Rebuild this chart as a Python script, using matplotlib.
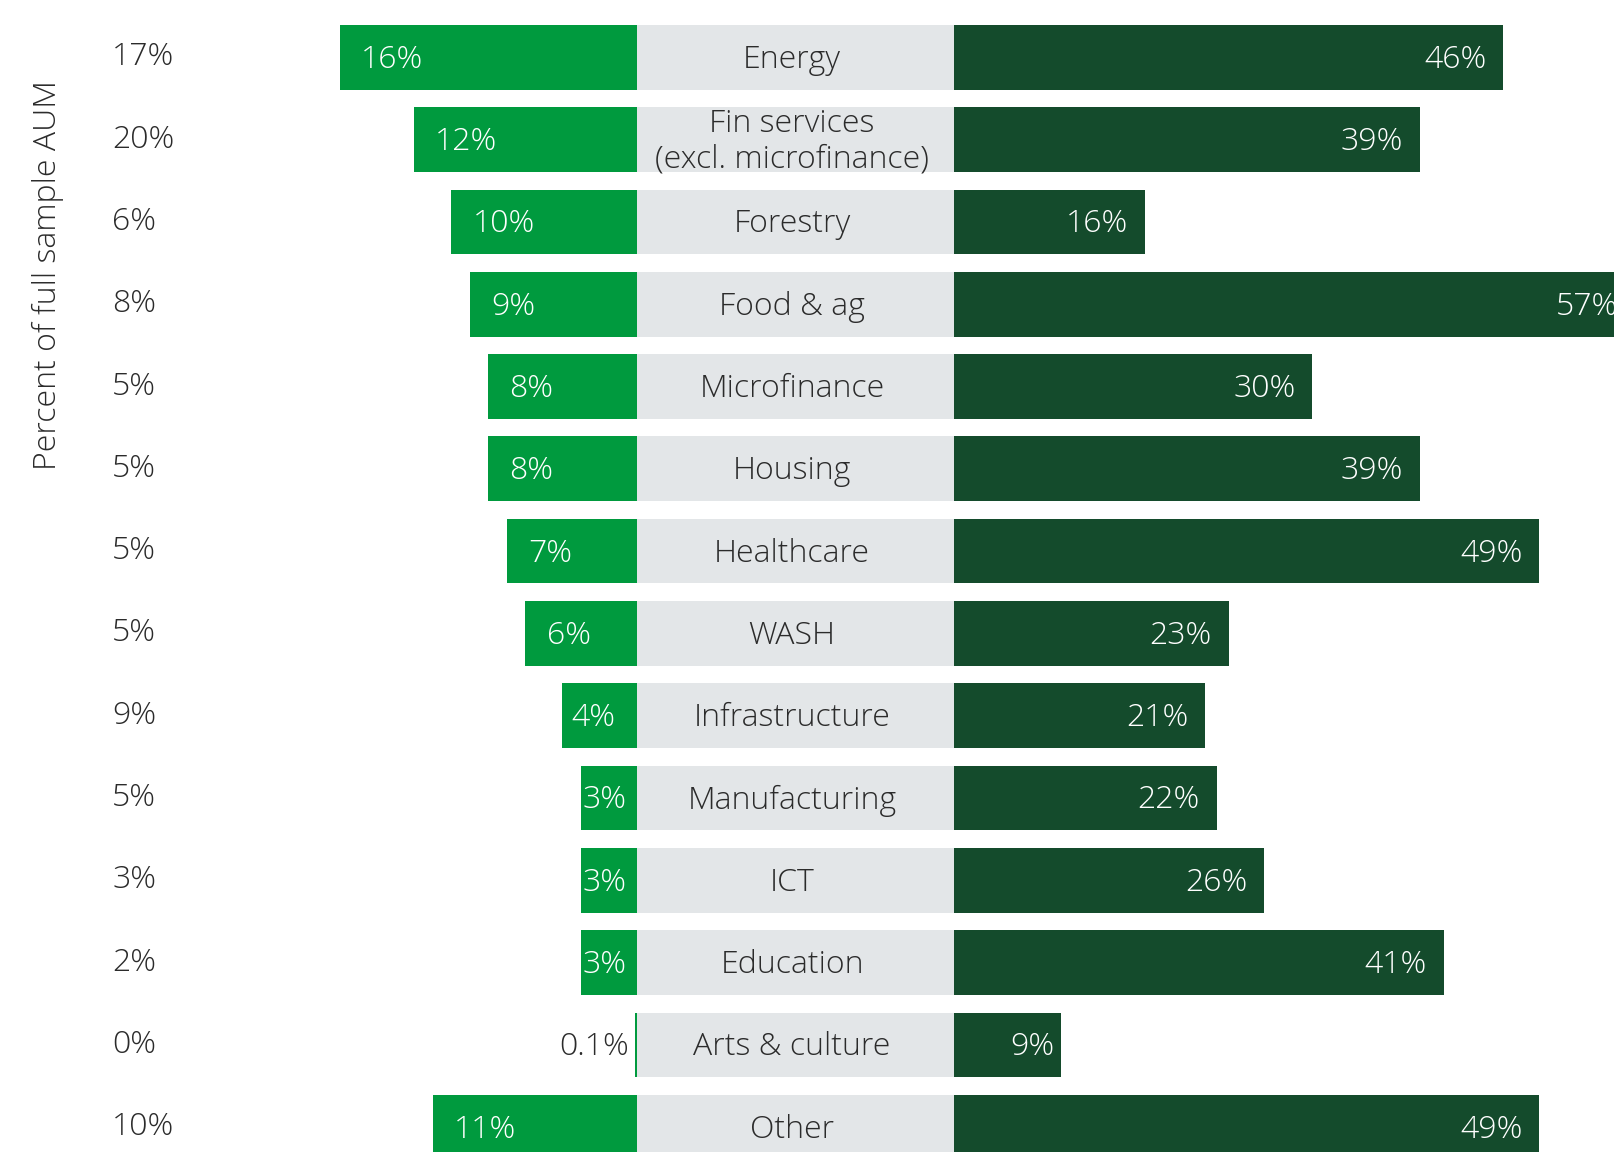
import matplotlib
matplotlib.use("Agg")
import matplotlib.pyplot as plt
import matplotlib.transforms as mtransforms

plt.rcParams['font.family'] = ['Open Sans', 'DejaVu Sans']

# data
categories = ["Energy", "Fin services\n(excl. microfinance)", "Forestry", "Food & ag",
              "Microfinance", "Housing", "Healthcare", "WASH", "Infrastructure",
              "Manufacturing", "ICT", "Education", "Arts & culture", "Other"]
aum_share = ["17%", "20%", "6%", "8%", "5%", "5%", "5%", "5%", "9%", "5%", "3%", "2%", "0%", "10%"]
left_vals = [16, 12, 10, 9, 8, 8, 7, 6, 4, 3, 3, 3, 0.1, 11]
right_vals = [46, 39, 16, 57, 30, 39, 49, 23, 21, 22, 26, 41, 9, 49]

GREEN = "#009A3E"
DARK = "#144B2C"
GREY = "#E3E6E8"
TXT = "#2B2B2B"
FS = 23
DY = 0.03  # labels sit a touch below bar centre

W, H = 1615, 1152
fig = plt.figure(figsize=(W / 100, H / 100), dpi=100)

x_zero_l = 636.6   # px, left bars grow left from here
x_zero_r = 953.8   # px, right bars grow right from here
px_l = 18.55       # px per percent, left side
px_r = 11.95       # px per percent, right side
pitch = 82.3
first_c = 57.3

ylim = ((H - first_c) / pitch, -first_c / pitch)
ys = list(range(len(categories)))
bh = 0.786

ax_l = fig.add_axes([0, 0, x_zero_l / W, 1])
ax_m = fig.add_axes([x_zero_l / W, 0, (x_zero_r - x_zero_l) / W, 1])
ax_r = fig.add_axes([x_zero_r / W, 0, (W - x_zero_r) / W, 1])

for ax in (ax_l, ax_m, ax_r):
    ax.set_ylim(*ylim)
    ax.axis("off")

ax_l.set_xlim(x_zero_l / px_l, 0)
ax_r.set_xlim(0, (W - x_zero_r) / px_r)
ax_m.set_xlim(0, 1)

# left bars
ax_l.barh(ys, left_vals, height=bh, color=GREEN, edgecolor="none")
for y, v in zip(ys, left_vals):
    if v < 1:
        ax_l.text(v + 0.3, y + DY, f"{v}%", ha="right", va="center", fontsize=FS,
                  color=TXT, fontweight="light")
    else:
        pad = min(1.15, 0.1 + 0.4 * (v - 3))
        ax_l.text(v - pad, y + DY, f"{v:g}%", ha="left", va="center", fontsize=FS,
                  color="white", fontweight="light")

# centre grey boxes with category names
ax_m.barh(ys, [1] * len(ys), height=bh, color=GREY, edgecolor="none")
for y, c in zip(ys, categories):
    ax_m.text(0.49, y + DY, c, ha="center", va="center", fontsize=FS, color=TXT,
              fontweight="light", linespacing=1.15)

# right bars
ax_r.barh(ys, right_vals, height=bh, color=DARK, edgecolor="none")
for y, v in zip(ys, right_vals):
    pad = 0.6 if v < 10 else 1.4
    ax_r.text(v - pad, y + DY, f"{v}%", ha="right", va="center", fontsize=FS,
              color="white", fontweight="light", clip_on=False)

# share of AUM column + axis title
tr = mtransforms.blended_transform_factory(ax_l.transAxes, ax_l.transData)
for y, s in zip(ys, aum_share):
    ax_l.text(112 / x_zero_l, y, s, transform=tr, ha="left", va="center",
              fontsize=FS, color=TXT, fontweight="light")

fig.text(48 / W, 1 - 275 / H, "Percent of full sample AUM", rotation=90,
         ha="center", va="center", fontsize=FS, color=TXT, fontweight="light")

fig.savefig("out.png", dpi=100)
